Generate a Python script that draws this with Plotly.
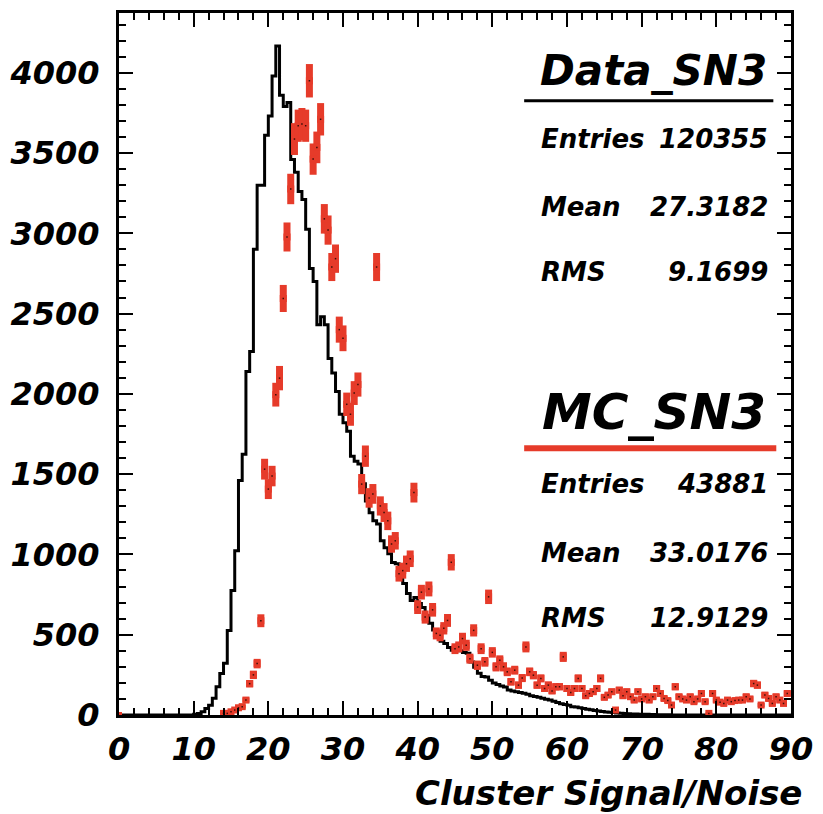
import numpy as np
import plotly.graph_objects as go

# ---------------- data ----------------
bin_width = 0.5
# Data_SN3 histogram counts, bins of 0.5 starting at 0 (10 bins per row = 5 units)
data_counts = [
    0, 0, 0, 0, 0, 0, 0, 0, 0, 0,
    0, 0, 0, 0, 0, 0, 0, 0, 0, 0,
    5, 10, 20, 40, 60, 105, 176, 259, 322, 527,
    775, 1023, 1460, 1624, 2140, 2264, 2900, 3300, 3300, 3610,
    3730, 3980, 4167, 3860, 3790, 3814, 3460, 3380, 3260, 3210,
    3025, 2780, 2700, 2430, 2480, 2430, 2220, 2130, 2015, 1873,
    1820, 1767, 1612, 1581, 1563, 1440, 1333, 1260, 1209, 1190,
    1085, 1042, 1005, 950, 942, 856, 819, 757, 713, 732,
    695, 670, 620, 571, 530, 484, 460, 446, 420, 403,
    403, 400, 390, 384, 330, 298, 260, 240, 236, 217,
    200, 190, 180, 174, 155, 150, 145, 140, 136, 130,
    120, 115, 110, 105, 98, 93, 85, 78, 70, 65,
    60, 52, 50, 45, 40, 36, 32, 28, 25, 22,
    19, 17, 15, 13, 11, 10, 8, 7, 6, 5,
    4, 4, 3, 3, 2, 2, 1, 1, 0, 0,
    0, 0, 0, 0, 0, 0, 0, 0, 0, 0,
    0, 0, 0, 0, 0, 0, 0, 0, 0, 0,
    0, 0, 0, 0, 0, 0, 0, 0, 0, 0,
]

# MC_SN3 (scaled) points, starting at 14.0 in steps of 0.5
mc_start = 14.0
mc_counts = [
    10, 10, 20, 31, 45, 52, 93, 195, 250, 320,
    587, 1531, 1407, 1488, 1995, 2098, 2594, 2977, 3276, 3587,
    3670, 3680, 3670, 3950, 3462, 3535, 3710, 3090, 3020, 2790,
    2842, 2400, 2346, 1935, 1873, 2005, 2058, 1438, 1612, 1352,
    1377, 2790, 1302, 1261, 1209, 1065, 1085, 880, 899, 942,
    973, 1385, 672, 765, 610, 785, 655, 508, 496, 540,
    589, 951, 413, 424, 476, 434, 351, 527, 310, 413,
    331, 736, 390, 300, 341, 300, 269, 207, 279, 186,
    230, 424, 269, 248, 186, 228, 165, 186, 150, 176,
    176, 362, 165, 140, 165, 228, 165, 120, 134, 145,
    165, 228, 110, 124, 145, 31, 155, 120, 145, 114,
    93, 145, 100, 114, 93, 114, 165, 134, 103, 90,
    62, 176, 114, 100, 93, 114, 83, 100, 134, 83,
    10, 134, 93, 80, 72, 93, 83, 90, 93, 93,
    114, 100, 196, 186, 62, 124, 103, 72, 114, 93,
    72, 134,
]
mc_zero_x = [0.0]
mc_zero_y = [0]

data_entries, data_mean, data_rms = "120355", "27.3182", "9.1699"
mc_entries, mc_mean, mc_rms = "43881", "33.0176", "12.9129"
mc_scale = 120355 / 43881

x_ticks = [0, 10, 20, 30, 40, 50, 60, 70, 80, 90]
y_ticks = [0, 500, 1000, 1500, 2000, 2500, 3000, 3500, 4000]

# ---------------- build ----------------
W, H = 823, 814
L, R, T, B = 115, 23, 10, 99
RED = "#e63b2a"
FONT = "DejaVu Sans"

edges = np.arange(len(data_counts) + 1) * bin_width
step_x = list(edges)
step_y = list(data_counts) + [data_counts[-1]]

mc_x = mc_start + np.arange(len(mc_counts)) * bin_width
mc_y = np.array(mc_counts, dtype=float)
mc_err = np.sqrt(mc_y * mc_scale)

fig = go.Figure()
fig.add_trace(go.Scatter(x=step_x, y=step_y, mode="lines", line_shape="hv",
                         line=dict(color="black", width=3), hoverinfo="skip"))
fig.add_trace(go.Scatter(x=mc_zero_x, y=mc_zero_y, mode="markers",
                         marker=dict(symbol="square", size=6, color=RED),
                         cliponaxis=False))
fig.add_trace(go.Scatter(x=mc_x, y=mc_y, mode="markers",
                         marker=dict(symbol="square", size=7, color=RED),
                         error_y=dict(type="data", array=mc_err, thickness=7,
                                      width=0, color=RED)))
fig.add_trace(go.Scatter(x=mc_x, y=mc_y, mode="markers",
                         marker=dict(symbol="square", size=1.5, color="#3a0e08")))

tickfont = dict(family=FONT, size=32, color="black", weight="bold", style="italic")
axis_common = dict(showline=True, linecolor="black", linewidth=3, mirror="ticks",
                   ticks="inside", tickcolor="black", tickwidth=2, ticklen=14,
                   showgrid=False, zeroline=False, tickfont=tickfont)

fig.update_xaxes(range=[0, 90], tickvals=x_ticks, ticktext=[str(v) for v in x_ticks],
                 minor=dict(ticks="inside", ticklen=7, dtick=2, tickwidth=2,
                            tickcolor="black", showgrid=False),
                 ticklabelstandoff=4, **axis_common)
fig.update_yaxes(range=[0, 4372], tickvals=y_ticks, ticktext=[str(v) for v in y_ticks],
                 minor=dict(ticks="inside", ticklen=7, dtick=100, tickwidth=2,
                            tickcolor="black", showgrid=False),
                 ticklabelstandoff=10, **axis_common)

pw, ph = W - L - R, H - T - B


def px(xp):
    return (xp - L) / pw


def py(yp):
    return (H - B - yp) / ph


annots = []


def txt(s, x, y, size, anchor):
    annots.append(dict(text=s, x=px(x), y=py(y), xref="paper", yref="paper",
                       xanchor=anchor, yanchor="middle", showarrow=False,
                       font=dict(family=FONT, size=size, color="black",
                                 weight="bold", style="italic")))


txt("Data_SN3", 660, 68, 42, "center")
txt("Entries", 543, 137, 26, "left"); txt(data_entries, 779, 137, 26, "right")
txt("Mean", 543, 205, 26, "left"); txt(data_mean, 779, 205, 26, "right")
txt("RMS", 543, 270, 26, "left"); txt(data_rms, 779, 270, 26, "right")
txt("MC_SN3", 660, 411, 50, "center")
txt("Entries", 543, 483, 26, "left"); txt(mc_entries, 779, 483, 26, "right")
txt("Mean", 543, 552, 26, "left"); txt(mc_mean, 779, 552, 26, "right")
txt("RMS", 543, 618, 26, "left"); txt(mc_rms, 779, 618, 26, "right")
txt("Cluster Signal/Noise", 813, 793, 34, "right")

shapes = [
    dict(type="line", xref="paper", yref="paper", x0=px(528), x1=px(782),
         y0=py(98), y1=py(98), line=dict(color="black", width=3)),
    dict(type="line", xref="paper", yref="paper", x0=px(528), x1=px(785),
         y0=py(447), y1=py(447), line=dict(color=RED, width=6)),
]

fig.update_layout(width=W, height=H, margin=dict(l=L, r=R, t=T, b=B),
                  plot_bgcolor="white", paper_bgcolor="white", showlegend=False,
                  annotations=annots, shapes=shapes)

fig.write_html("out.html")
